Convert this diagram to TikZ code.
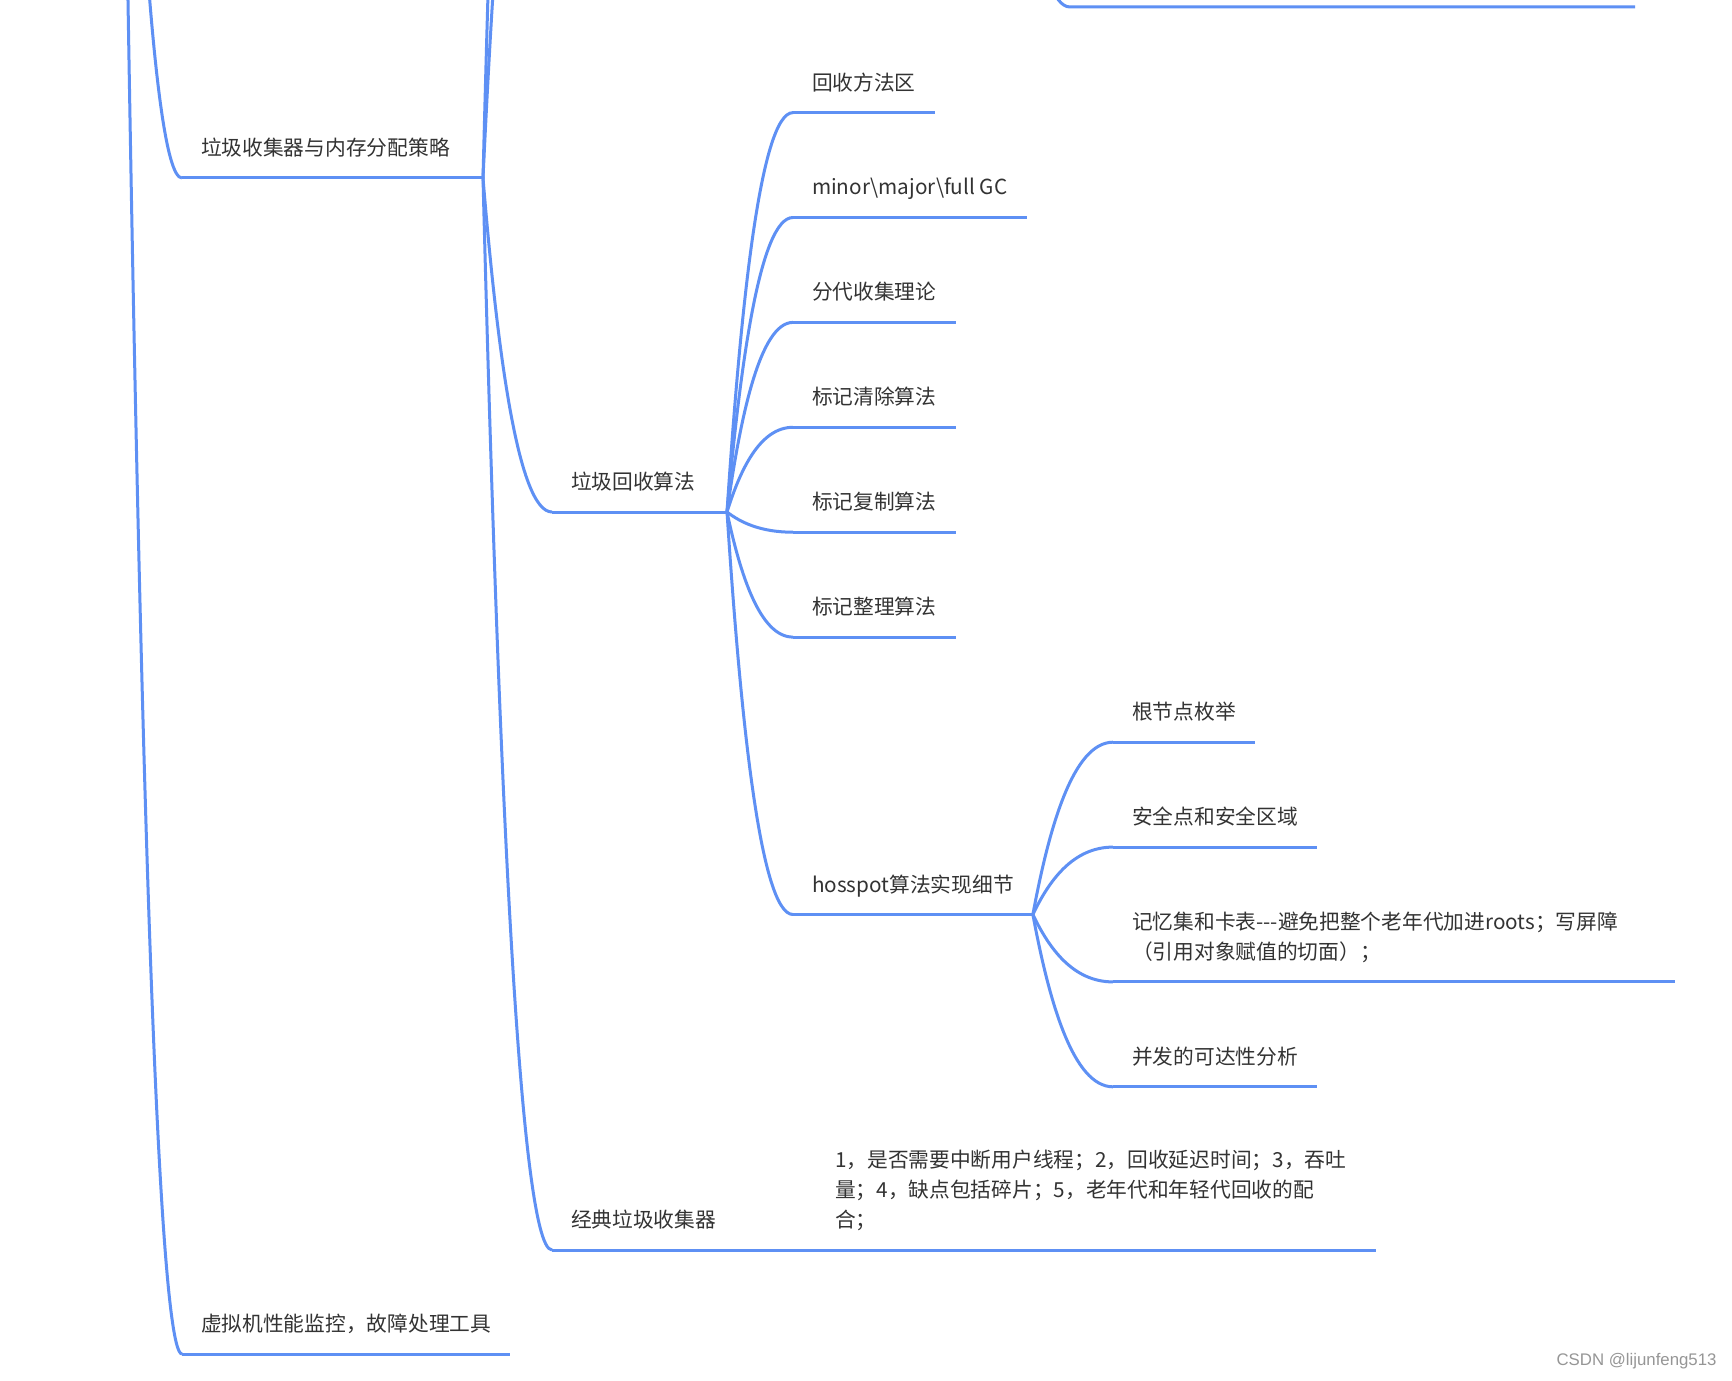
\documentclass[tikz,border=0pt]{standalone}
\usepackage{fontspec}
\newfontfamily\cjkfont{Noto Sans CJK SC}
\newfontfamily\markfont{Liberation Sans}
\usetikzlibrary{calc}

\definecolor{limbblue}{RGB}{94,144,244}
\definecolor{inkgray}{RGB}{51,51,51}
\definecolor{markgray}{RGB}{150,150,150}

\tikzset{
    topic/.style={anchor=south west, inner xsep=8.8pt, inner ysep=0pt, text depth=10.5pt,
        font=\cjkfont\fontsize{10.36pt}{14.9pt}\selectfont, text=inkgray},
    limb/.style={to path={let \p1=(\tikztostart), \p2=(\tikztotarget) in
        .. controls ({\x1+0.2*(\x2-\x1)},{\y1+0.5*(\y2-\y1)})
        and ({\x1+0.5*(\x2-\x1)},\y2) .. (\tikztotarget)}},
}

\begin{document}
\begin{tikzpicture}[x=0.5pt, y=-0.5pt, line width=1.5pt, draw=limbblue]
    \useasboundingbox (0,0) rectangle (1732,1380);
    \fill[white] (0,0) rectangle (1732,1380);
    \clip (0,0) rectangle (1732,1380);

    % Ends that lie above the page
    \coordinate (root) at (118,-700);
    \coordinate (upA) at (552,-400);
    \coordinate (upB) at (552,-900);
    \coordinate (upC) at (1035,-80);
    \coordinate (lineL) at (1070,7);
    \coordinate (lineR) at (1635,7);

    % Level 1
    \node[topic, text width=131.4pt, align=left] (gcmem) at (182,178) {垃圾收集器与内存分配策略};
    \node[topic] (vm) at (182,1354) {虚拟机性能监控，故障处理工具};

    % Level 2
    \node[topic, text width=68.4pt, align=left] (algo) at (552,512) {垃圾回收算法};
    \node[topic] (classic) at (552,1250) {经典垃圾收集器};
    \node[topic, text width=261pt, align=left, text depth=40.3pt] (note) at (816,1250)
        {1，是否需要中断用户线程；2，回收延迟时间；3，吞吐\\量；4，缺点包括碎片；5，老年代和年轻代回收的配\\合；};

    % Level 3
    \foreach \i/\txt in {1/回收方法区, 2/minor\textbackslash major\textbackslash full GC,
        3/分代收集理论, 4/标记清除算法, 5/标记复制算法, 6/标记整理算法}
        \node[topic] (alg\i) at (793,{112.6+(\i-1)*104.9}) {\txt};
    \node[topic] (hotspot) at (793,914.5) {hosspot算法实现细节};

    % Level 4
    \node[topic] (hot1) at (1113,742.2) {根节点枚举};
    \node[topic] (hot2) at (1113,847.1) {安全点和安全区域};
    \node[topic, text width=262pt, align=left, text depth=25.4pt] (hot3) at (1113,981.9)
        {记忆集和卡表-\kern0pt-\kern0pt-避免把整个老年代加进roots；写屏障\\（引用对象赋值的切面）；};
    \node[topic] (hot4) at (1113,1086.8) {并发的可达性分析};

    % Underlines
    \foreach \n in {gcmem, vm, algo, classic, note, alg1, alg2, alg3, alg4, alg5, alg6,
        hotspot, hot1, hot2, hot3, hot4}
        \draw (\n.south west) -- (\n.south east);

    % Limbs
    \foreach \kid in {gcmem, vm}
        \draw (root) to[limb] (\kid.south west);
    \foreach \kid in {upA, upB}
        \draw (gcmem.south east) to[limb] (\kid);
    \foreach \kid in {algo, classic}
        \draw (gcmem.south east) to[limb] (\kid.south west);
    \foreach \kid in {alg1, alg2, alg3, alg4, alg5, alg6, hotspot}
        \draw (algo.south east) to[limb] (\kid.south west);
    \foreach \kid in {hot1, hot2, hot3, hot4}
        \draw (hotspot.south east) to[limb] (\kid.south west);
    \draw (classic.south east) to[limb] (note.south west);
    \draw (upC) to[limb] (lineL) -- (lineR);

    \node[anchor=east, inner sep=0pt, text=markgray, font=\markfont\fontsize{8.4pt}{10pt}\selectfont]
        (watermark) at (1718,1361) {CSDN @lijunfeng513};
\end{tikzpicture}
\end{document}
